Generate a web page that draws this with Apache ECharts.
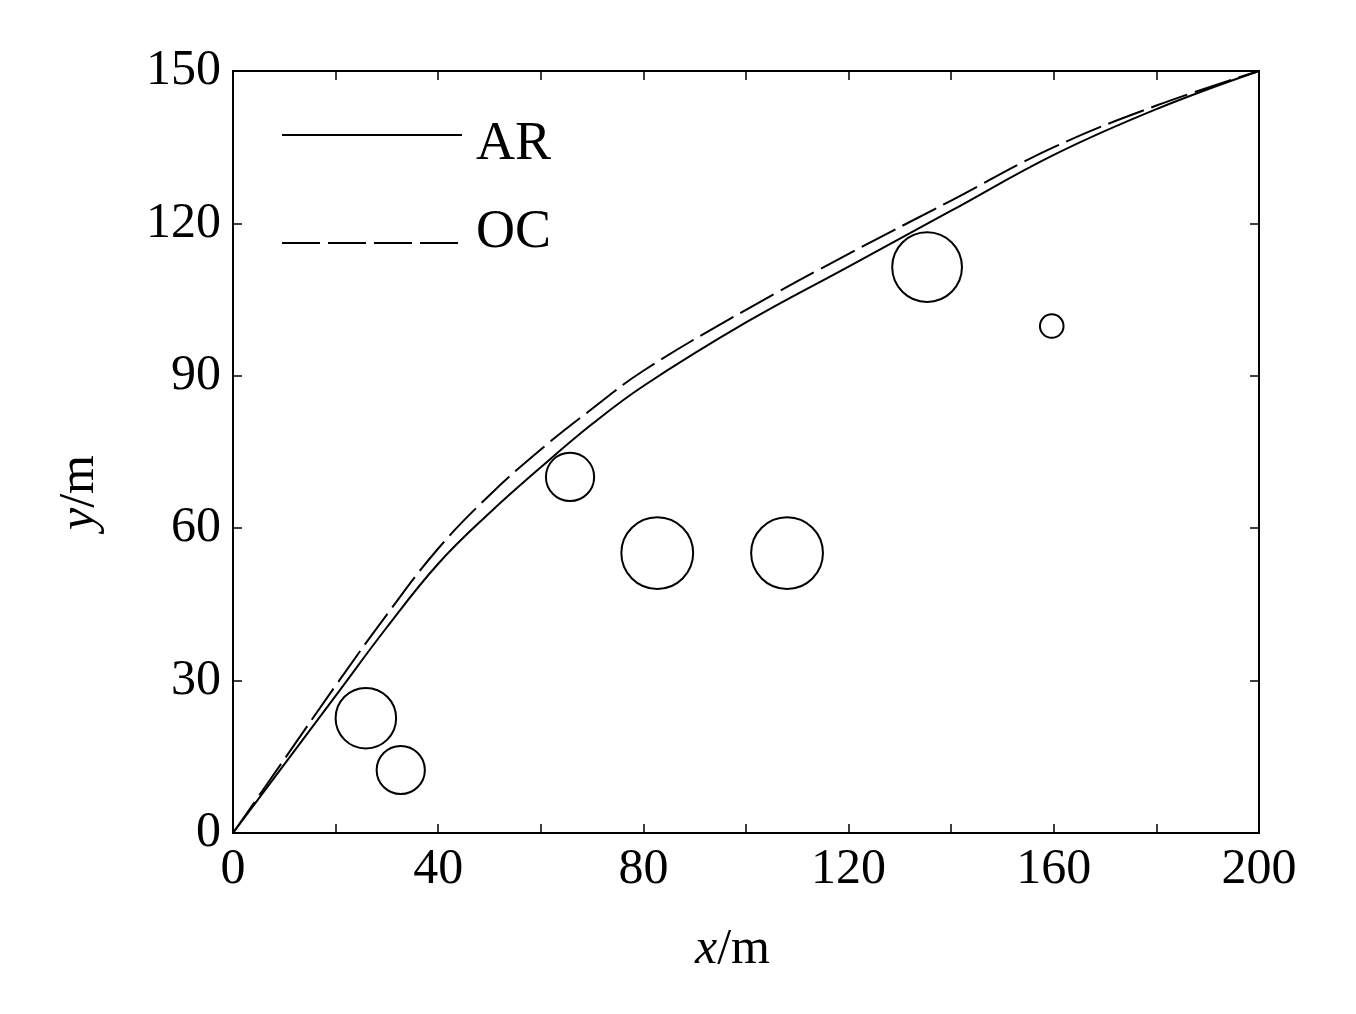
<!DOCTYPE html><html><head><meta charset="utf-8"><script src="https://cdn.jsdelivr.net/npm/echarts@6/dist/echarts.min.js"></script>
<style>body{margin:0}#c{width:1356px;height:1014px}</style></head><body><div id="c"></div><script>
const arX=[0,10,20,30,40,50,60,70,80,100,120,140,160,180,200];
const arY=[0,13.5,27,40.5,53,63,72,80.5,88,100.5,111.5,122.5,133.5,142.5,150];
const ocY=[0,14.5,29,43,56,66.5,75.5,83.5,91,103,114,124.5,135,143.2,150];
const obsX=[25.9,32.7,65.7,82.7,108,135.3,159.6];
const obsY=[22.6,12.4,70.1,55.1,55.1,111.4,99.8];
const obsR=[5.9,4.7,4.7,7,7,6.8,2.3];
const F='Liberation Serif';
const ch=echarts.init(document.getElementById('c'));
const ax=()=>({type:'value',axisLine:{show:true,onZero:false,lineStyle:{color:'#000',width:2}},axisTick:{show:true,inside:true,length:9,lineStyle:{color:'#000',width:1.5}},splitLine:{show:false}});
ch.setOption({animation:false,
grid:{left:233,right:97,top:71,bottom:181},
xAxis:[Object.assign(ax(),{position:'bottom',min:0,max:200,interval:20,axisLabel:{fontFamily:F,fontSize:50,color:'#000',margin:12,formatter:v=>v%40===0?v:''}}),
 Object.assign(ax(),{position:'top',min:0,max:200,interval:20,axisLabel:{show:false}})],
yAxis:[Object.assign(ax(),{position:'left',min:0,max:150,interval:30,axisLabel:{fontFamily:F,fontSize:50,color:'#000',margin:12}}),
 Object.assign(ax(),{position:'right',min:0,max:150,interval:30,axisLabel:{show:false}})],
graphic:[
 {type:'text',left:695,top:925,style:{text:'{i|x}/m',rich:{i:{fontStyle:'italic',fontFamily:F,fontSize:50}},font:'50px '+F,fill:'#000'}},
 {type:'text',x:55,y:530,rotation:Math.PI/2,style:{text:'{i|y}/m',rich:{i:{fontStyle:'italic',fontFamily:F,fontSize:50}},font:'50px '+F,fill:'#000'}},
 {type:'line',shape:{x1:282,y1:135,x2:462,y2:135},style:{stroke:'#000',lineWidth:2}},
 {type:'line',shape:{x1:282,y1:243,x2:466,y2:243},style:{stroke:'#000',lineWidth:2,lineDash:[38,8]}},
 {type:'text',x:476,y:118,style:{text:'AR',font:'54px '+F,fill:'#000'}},
 {type:'text',x:476,y:206,style:{text:'OC',font:'54px '+F,fill:'#000'}}
],
series:[
 {type:'line',data:arX.map((x,i)=>[x,arY[i]]),smooth:0.4,showSymbol:false,lineStyle:{color:'#000',width:2}},
 {type:'line',data:arX.map((x,i)=>[x,ocY[i]]),smooth:0.4,showSymbol:false,lineStyle:{color:'#000',width:2,type:[38,8]}},
 {type:'custom',data:obsX.map((x,i)=>[x,obsY[i],obsR[i]]),renderItem:(p,api)=>{const c=api.coord([api.value(0),api.value(1)]);const r=api.size([api.value(2),0])[0];return{type:'circle',shape:{cx:c[0],cy:c[1],r:r},style:{fill:'none',stroke:'#000',lineWidth:2}};}}
]});
</script></body></html>
